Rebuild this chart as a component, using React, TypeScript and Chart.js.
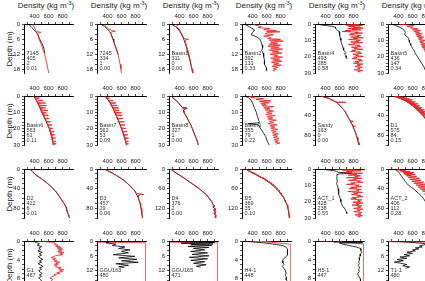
import React, { useEffect, useRef } from "react";
import { Chart, registerables } from "chart.js";
Chart.register(...registerables);

type Pt = [number, number]; // [depth (m), density (kg m-3)]

// ---------- data: [depth, density] ----------
const b7145: Pt[] = [[0,311],[1,350],[2.1,383],[3,415],[3.7,440],[4.7,455],[5.7,469],[7.3,500],[9,526],[10.5,540],[11.7,550]];
const r7145: Pt[] = [[0,369],[1,390],[2,410],[3,430],[3.3,490],[3.5,470],[3.7,440],[5,455],[6,465],[8,495],[10,520],[12,545],[14,562],[16,578],[18,592],[19.5,603]];
const b7245: Pt[] = [[0,300],[1,360],[2,400],[3,430],[4,450],[5,465],[6,480],[7,490],[8,500],[9,515],[10,530],[11,540],[12,550]];
const r7245: Pt[] = [[0,344],[1,380],[2,420],[2.6,470],[2.9,510],[3.1,470],[3.4,440],[4.5,455],[6,475],[8,500],[10,525],[12,550],[14,565],[16,580],[18,592],[19.5,600]];
const bBasin1: Pt[] = [[0,274],[1,340],[2,380],[3,405],[4,425],[5,445],[6,460],[8,485],[10,505],[12,525],[14,545],[16,560],[18,578],[19.5,588]];
const rBasin1: Pt[] = [[0,336],[0.5,370],[1,360],[2,395],[3,415],[4,435],[5,450],[5.8,465],[6.1,530],[6.4,480],[8,495],[10,515],[12,535],[14,550],[16,565],[18,580],[19.5,590]];
const bBasin2: Pt[] = [[0,279],[1,350],[2.4,431],[3.3,400],[4.3,383],[5,450],[6,503],[7,520],[8.3,536],[9.5,545],[10.5,530],[11.5,550],[13,560],[14.8,574],[16,570],[17.4,597],[18.5,600]];
const rBasin2: Pt[] = [[0,410],[0.5,450],[1.0,520],[1.4,480],[1.8,650],[2.2,560],[2.6,740],[2.9,600],[3.1,790],[3.4,620],[3.9,580],[4.3,700],[4.8,560],[5.3,660],[5.8,620],[6.1,800],[6.4,640],[6.8,840],[7.2,660],[7.6,760],[8.0,640],[8.4,800],[8.8,620],[9.2,780],[9.6,660],[10.0,830],[10.4,640],[10.8,780],[11.2,680],[11.6,820],[12.0,650],[12.4,760],[12.8,700],[13.2,830],[13.6,660],[14.0,790],[14.4,690],[14.8,820],[15.2,670],[15.6,780],[16.0,700],[16.4,810],[16.8,680],[17.2,760],[17.6,700],[18.0,740],[18.4,690],[18.8,720]];
const bBasin4: Pt[] = [[0,260],[0.5,330],[1,420],[1.5,500],[2,540],[2.6,544],[3.5,560],[4.6,593],[5.5,600],[7,605],[8.5,610],[10,620],[11.5,625],[13,640],[14.5,650],[16,660],[17.5,690],[18.5,670],[19.5,700],[20.5,695],[21.5,710]];
const rBasin4: Pt[] = [[0,650],[0.3,880],[0.5,760],[0.8,930],[1.1,700],[1.3,820],[1.6,740],[1.9,900],[2.2,800],[2.5,940],[2.8,720],[3.1,850],[3.3,780],[3.6,910],[4.0,680],[4.3,760],[4.6,640],[5.0,870],[5.3,820],[5.6,930],[6.0,760],[6.3,800],[6.6,740],[7.0,905],[7.3,850],[7.6,880],[8.0,760],[8.4,940],[8.8,800],[9.1,860],[9.5,730],[9.9,900],[10.3,840],[10.7,870],[11.0,760],[11.4,930],[11.8,800],[12.2,820],[12.6,730],[13.0,890],[13.4,850],[13.8,910],[14.2,770],[14.6,860],[15.0,810],[15.5,935],[16.0,780],[16.4,830],[16.8,760],[17.2,900],[17.6,860],[18.0,920],[18.5,790],[19.0,870],[19.4,830],[19.8,940],[20.3,800],[20.7,850],[21.2,780],[21.7,910],[22.1,870],[22.6,930],[23.0,820],[23.5,880],[24.0,800],[24.5,935],[25.0,850],[25.5,900],[26.0,820],[26.5,925],[27.0,860],[27.5,890],[28.0,810],[28.5,930],[29.0,860],[29.5,900]];
const bBasin5: Pt[] = [[0,300],[1,360],[2,420],[3,460],[4,480],[5,500],[6,490],[7,495],[8,530],[9,545],[10,550],[11,555],[12,570],[13,575],[14,590],[15,600],[16,620],[17,630],[18,640],[19,655],[20,670],[22,700],[24,730],[26,760],[28,780],[29.5,800]];
const rBasin5: Pt[] = [[0,404],[0.5,500],[1,619],[1.5,520],[2,600],[2.5,571],[3,680],[3.5,600],[4,714],[4.5,620],[5,700],[5.5,640],[6,740],[6.5,650],[7,720],[7.5,660],[8,760],[8.5,680],[9,740],[9.5,690],[10,780],[10.5,700],[11,760],[11.5,710],[12,800],[12.5,720],[13,780],[13.5,730],[14,820],[14.5,740],[15,800],[15.5,760],[16,840],[16.5,770],[17,820],[17.5,780],[18,860],[18.5,790],[19,840],[19.5,800],[20,880],[21,820],[22,880],[23,830],[24,900],[25,850],[26,910],[27,860],[28,920],[29,870],[29.8,900]];
const bBasin6: Pt[] = [[0,383],[1,400],[2,415],[3,430],[5,452],[7,475],[10,503],[12,525],[15,560],[18,590],[20,612],[22,625],[25,645],[28,660],[30,669]];
const rBasin6: Pt[] = [[0,385],[1,405],[1.3,470],[1.6,410],[2.5,425],[2.8,520],[3.1,432],[4,442],[4.3,560],[4.6,450],[5.5,460],[5.8,570],[6.1,468],[7,478],[7.3,560],[7.6,482],[8.5,492],[8.8,590],[9.1,498],[10,505],[10.3,570],[10.6,512],[11.5,520],[11.8,600],[12.1,528],[13.5,545],[13.8,610],[14.1,550],[15.5,565],[15.8,630],[16.1,570],[17.5,585],[17.8,650],[18.1,590],[19.5,605],[19.8,660],[20.1,612],[21.5,620],[21.8,680],[22.1,625],[23.5,635],[23.8,690],[24.1,640],[25.5,648],[25.8,700],[26.1,650],[27.5,657],[27.8,705],[28.1,660],[29,665],[29.3,710],[29.6,668],[30,670]];
const bBasin7: Pt[] = [[0,361],[1,380],[2,400],[3,418],[5,448],[7,472],[10,504],[12,525],[15,555],[18,582],[20,600],[22,615],[25,640],[28,660],[30,671]];
const rBasin7: Pt[] = [[0,362],[1,382],[1.3,430],[1.6,390],[2.5,412],[2.8,480],[3.1,420],[4,433],[4.3,520],[4.6,440],[5.5,455],[5.8,540],[6.1,460],[7,472],[7.3,560],[7.6,478],[8.5,490],[8.8,570],[9.1,495],[10,504],[10.3,600],[10.6,510],[11.5,518],[11.8,610],[12.1,525],[13.5,540],[13.8,620],[14.1,545],[15.5,558],[15.8,640],[16.1,562],[17.5,575],[17.8,650],[18.1,580],[19.5,598],[19.8,660],[20.1,600],[21.5,612],[21.8,680],[22.1,615],[23.5,630],[23.8,690],[24.1,632],[25.5,642],[25.8,700],[26.1,645],[27.5,655],[27.8,700],[28.1,658],[29,665],[29.3,700],[29.6,668],[30,671]];
const bBasin8: Pt[] = [[0,274],[1,300],[2,330],[3,360],[4,380],[5,400],[6,420],[7,440],[7.6,510],[8.2,470],[9,455],[10,464],[12,490],[14,515],[16,540],[18,565],[20,583],[22,600],[24,620],[26,640],[28,655],[30,669]];
const rBasin8: Pt[] = [[0,280],[1,305],[2,335],[3,362],[4,383],[5,402],[6,422],[7,440],[7.3,500],[7.6,448],[9,458],[10,466],[12,492],[14,517],[16,542],[18,566],[20,584],[22,602],[24,622],[26,641],[28,656],[30,670]];
const bBasin9: Pt[] = [[0,288],[1,340],[2.5,380],[5,407],[7.5,430],[10,455],[12.5,470],[15,490],[16.3,500],[17.0,336],[17.6,480],[20.3,521],[22.5,555],[25,590],[27.5,610],[30,638]];
const rBasin9: Pt[] = [[0,336],[0.6,420],[1.0,380],[1.6,560],[2.2,450],[3.0,661],[3.5,500],[4.2,640],[4.8,520],[5.5,600],[6.0,540],[6.5,700],[7.2,560],[7.8,650],[8.5,580],[9.2,700],[9.9,600],[10.6,680],[11.3,590],[12.0,720],[12.7,610],[13.4,690],[14.1,620],[14.8,740],[15.5,640],[16.2,700],[16.9,620],[17.6,750],[18.3,650],[19.0,720],[19.7,660],[20.4,760],[21.1,670],[21.8,740],[22.5,680],[23.2,770],[23.9,690],[24.6,760],[25.3,700],[26.0,780],[26.7,710],[27.4,770],[28.1,720],[28.8,790],[29.5,730]];
const bSandy: Pt[] = [[0,330],[3,400],[5,450],[8,490],[10,520],[13,555],[15,570],[20,610],[25,640],[30,670],[35,690],[40,710],[45,730],[50,750],[55,768],[60,785],[65,800],[70,815],[75,828],[80,840],[85,850],[90,860],[95,868],[100,875]];
const rSandy: Pt[] = [[0,332],[3,402],[5,452],[8,492],[10,522],[12,545],[12.8,690],[13.5,560],[15,572],[20,612],[25,642],[30,672],[35,692],[40,712],[45,732],[50,752],[52,800],[53,756],[58,780],[60,787],[62,830],[63,792],[70,817],[75,830],[80,842],[85,852],[90,862],[95,870],[100,877]];
const bD1: Pt[] = [[0,330],[5,420],[10,500],[15,555],[20,600],[25,640],[30,680],[35,715],[40,750],[50,800],[60,830],[70,860],[80,880],[90,895],[100,910]];
const rD1: Pt[] = [[0,335],[1,400],[1.5,340],[2.5,480],[3,380],[4,520],[5,430],[6,560],[7,460],[8,600],[9,490],[10,580],[11,510],[12,640],[13,530],[14,620],[15,560],[16,680],[17,575],[18,650],[19,590],[20,700],[21,610],[22,690],[23,625],[24,740],[25,640],[26,720],[27,660],[28,770],[29,670],[30,750],[31,690],[32,790],[33,700],[34,770],[35,720],[36,820],[37,730],[38,800],[39,745],[40,840],[42,770],[44,860],[46,790],[48,870],[50,805],[53,880],[56,820],[59,900],[62,840],[65,910],[70,865],[75,920],[80,885],[85,930],[90,900],[95,935],[100,915]];
const bD2: Pt[] = [[0,330],[5,370],[11,407],[20,500],[27,565],[34,621],[45,700],[58,764],[70,820],[78,850],[90,875],[100,900]];
const rD2: Pt[] = [[0,332],[5,372],[11,410],[20,502],[27,567],[34,623],[45,702],[58,766],[70,822],[78,852],[85,860],[86,880],[87,862],[90,877],[93,885],[95,900],[97,890],[100,902]];
const bD3: Pt[] = [[0,350],[5,420],[11,500],[20,600],[27,665],[34,719],[45,790],[58,837],[70,865],[85,885],[100,900]];
const rD3: Pt[] = [[0,352],[3,400],[5,425],[8,470],[11,503],[15,550],[20,603],[25,650],[30,690],[34,722],[38,750],[42,775],[45,793],[50,815],[51,880],[52,915],[53,840],[58,840],[65,855],[70,868],[75,875],[80,880],[82,900],[83,882],[90,890],[100,902]];
const bD4: Pt[] = [[0,270],[8,320],[16,380],[30,480],[45,580],[60,680],[80,789],[100,860],[105,870],[110,880],[113,905],[116,875],[120,895],[123,915],[126,885],[130,905],[133,920],[136,890],[140,910],[143,925],[146,905],[150,915]];
const rD4: Pt[] = [[0,275],[8,325],[16,385],[30,485],[45,585],[60,685],[80,792],[100,862],[110,882],[120,897],[130,907],[140,912],[150,918]];
const bD5: Pt[] = [[0,300],[10,380],[16,440],[30,560],[45,660],[56,720],[70,780],[90,850],[110,895],[130,915],[150,925]];
const rD5: Pt[] = [[0,305],[3,330],[5,360],[6,340],[8,380],[10,390],[12,420],[13,400],[15,450],[17,440],[19,490],[21,470],[23,520],[25,510],[27,560],[29,545],[31,590],[33,580],[35,620],[37,605],[39,650],[41,640],[43,680],[45,665],[47,700],[50,695],[53,730],[56,725],[59,760],[62,755],[66,790],[70,785],[75,820],[80,815],[85,850],[90,845],[95,870],[100,868],[110,895],[120,905],[130,920],[140,925],[150,930]];
const bACT1: Pt[] = [[0,320],[0.5,420],[1,520],[1.5,560],[2,580],[2.5,770],[3,600],[3.5,560],[4.5,565],[6,560],[7.5,570],[9,557],[10.5,575],[12,580],[13.5,585],[15.3,590],[17,600],[18.5,615],[20,620],[21.4,629],[23,650],[24.5,680],[26.4,700],[27.2,705]];
const rACT1: Pt[] = [[0,500],[0.4,820],[0.7,640],[1.1,910],[1.5,700],[1.8,780],[2.2,690],[2.6,930],[3.0,760],[3.3,850],[3.7,720],[4.1,900],[4.5,820],[4.9,870],[5.3,700],[5.7,920],[6.1,800],[6.5,840],[6.9,730],[7.3,900],[7.8,860],[8.2,935],[8.6,760],[9.0,820],[9.4,700],[9.9,880],[10.3,830],[10.8,920],[11.2,760],[11.6,850],[12.0,740],[12.5,910],[13.0,840],[13.4,880],[13.8,720],[14.3,930],[14.7,800],[15.2,860],[15.6,770],[16.1,905],[16.6,850],[17.0,935],[17.5,780],[17.9,840],[18.4,760],[18.9,920],[19.3,860],[19.8,900],[20.3,790],[20.8,935],[21.2,840],[21.7,880],[22.1,780],[22.6,920],[23.1,860],[23.6,900],[24.1,800],[24.6,935],[25.1,850],[25.6,890],[26.1,800],[26.6,920],[27.1,870],[27.6,910],[28.1,820],[28.6,930],[29.1,860],[29.6,900]];
const bACT2: Pt[] = [[0,330],[3,380],[6,400],[10,420],[15,445],[20,470],[25,495],[30,520],[35,560],[40,610],[45,650],[50,690],[55,725],[60,755],[70,800],[80,840],[90,870],[100,890]];
const rACT2: Pt[] = [[0,340],[1,420],[2,380],[3,500],[4,420],[5,560],[6,450],[7,620],[8,470],[9,600],[10,480],[11,640],[12,500],[13,580],[14,520],[15,660],[17,540],[19,700],[21,560],[23,720],[25,590],[27,760],[29,620],[31,780],[33,650],[35,800],[37,680],[39,830],[41,710],[43,850],[45,740],[48,870],[51,770],[54,890],[57,800],[60,900],[64,830],[68,910],[72,850],[76,920],[80,870],[85,930],[90,890],[95,935],[100,910]];
const bG1: Pt[] = [[0,369],[0.3,430],[0.6,470],[0.9,440],[1.2,500],[1.5,460],[1.8,490],[2.1,450],[2.4,510],[2.7,470],[3.0,500],[3.3,455],[3.6,480],[3.9,520],[4.2,470],[4.5,500],[4.8,450],[5.1,490],[5.4,520],[5.7,470],[6.0,500],[6.3,460],[6.6,480],[6.9,510],[7.2,470],[7.5,500],[7.8,460],[8.1,480],[8.4,500],[8.7,470],[9.0,490],[9.5,470],[10,480]];
const rG1: Pt[] = [[0,420],[0.15,560],[0.3,650],[0.5,700],[0.7,680],[0.9,740],[1.1,700],[1.3,780],[1.5,720],[1.7,800],[1.9,740],[2.1,790],[2.3,730],[2.5,820],[2.7,760],[2.9,800],[3.1,700],[3.3,680],[3.5,640],[3.7,700],[3.9,660],[4.1,720],[4.3,680],[4.5,760],[4.7,700],[4.9,740],[5.1,680],[5.3,720],[5.5,700],[5.7,780],[5.9,740],[6.1,820],[6.3,760],[6.5,800],[6.7,720],[6.9,760],[7.1,680],[7.3,700],[7.5,660],[7.7,640],[7.9,620],[8.1,660],[8.5,640],[9,680],[9.5,660],[10,700]];
const bGGU163: Pt[] = [[0,300],[0.4,420],[0.8,380],[1.2,520],[1.8,470],[2.4,650],[3.0,560],[3.6,720],[4.2,600],[4.8,700],[5.5,480],[6.2,790],[6.8,560],[7.4,820],[8.0,600],[8.6,840],[9.2,520],[9.8,700],[10.4,560],[10.8,640]];
const rGGU163: Pt[] = [[0.5,260],[0.7,945],[19.8,945]];
const bGGU165: Pt[] = [[0,260],[0.3,500],[0.6,900],[0.9,420],[1.2,880],[1.5,560],[1.8,860],[2.2,520],[2.6,820],[3.0,600],[3.6,760],[4.2,560],[4.8,800],[5.4,580],[6.0,820],[6.6,540],[7.2,800],[7.8,560],[8.4,760],[9.0,600],[9.6,780],[10.2,640],[10.5,700]];
const rGGU165: Pt[] = [[0.5,260],[0.7,945],[19.8,945]];
const bH41: Pt[] = [[0,267],[0.2,400],[0.4,560],[0.7,720],[1.0,840],[1.4,887],[1.8,901],[2.2,905],[2.6,900],[3.0,895],[3.4,870],[3.8,845],[4.2,825],[4.6,835],[5.0,850],[5.4,825],[5.8,848],[6.3,870],[6.8,880],[7.3,870],[7.8,890],[8.2,880],[8.6,900]];
const rH41: Pt[] = [[0,310],[0.1,450],[0.18,600],[0.4,760],[0.6,887],[0.74,945],[10.4,945]];
const bH51: Pt[] = [[0,270],[0.1,560],[0.2,520],[0.35,930],[0.45,600],[0.7,660],[1.0,750],[1.3,850],[1.6,900],[2.0,905],[2.4,915],[2.8,900],[3.2,895],[3.6,880],[4.0,885],[4.4,875],[4.8,880],[5.2,870],[5.6,885],[6.0,875],[6.5,880],[7.0,860],[7.5,875],[8.0,895],[8.5,900]];
const rH51: Pt[] = [[0,330],[0.1,500],[0.25,650],[0.4,780],[0.55,880],[0.65,945],[10.4,945]];
const bT11: Pt[] = [[0,300],[0.3,450],[0.6,600],[0.9,720],[1.2,800],[1.6,760],[2.0,700],[2.4,740],[2.8,640],[3.2,690],[3.6,600],[4.0,640],[4.5,520],[5.0,600],[5.5,480],[6.0,560],[6.5,420],[7.0,520],[7.5,380],[8.0,470],[8.5,340],[9.0,430],[9.5,520],[10.0,460],[10.5,560],[11,500]];
const rT11: Pt[] = [[0.3,260],[0.5,945],[19.8,945]];

const xTickValues = [300, 400, 500, 600, 700, 800, 900];
const xTickLabels = [400, 600, 800];

// ---------- panel table ----------
interface PanelDef {
  name: string; stats: string[]; col: number; row: number;
  yMax: number; major: number; minor: number;
  black: Pt[]; red: Pt[]; bound?: boolean;
}
const panels: PanelDef[] = [
  { name: "7145", stats: ["405", "2", "0.01"], col: 0, row: 0, yMax: 19.5, major: 6, minor: 2, black: b7145, red: r7145 },
  { name: "7245", stats: ["334", "1", "0.00"], col: 1, row: 0, yMax: 19.5, major: 6, minor: 2, black: b7245, red: r7245 },
  { name: "Basin1", stats: ["311", "0", "0.00"], col: 2, row: 0, yMax: 19.5, major: 6, minor: 2, black: bBasin1, red: rBasin1 },
  { name: "Basin2", stats: ["392", "131", "0.33"], col: 3, row: 0, yMax: 19.5, major: 6, minor: 2, black: bBasin2, red: rBasin2 },
  { name: "Basin4", stats: ["493", "285", "0.58"], col: 4, row: 0, yMax: 30, major: 10, minor: 2, black: bBasin4, red: rBasin4 },
  { name: "Basin5", stats: ["436", "147", "0.34"], col: 5, row: 0, yMax: 30, major: 10, minor: 2, black: bBasin5, red: rBasin5 },
  { name: "Basin6", stats: ["563", "61", "0.11"], col: 0, row: 1, yMax: 30, major: 10, minor: 2, black: bBasin6, red: rBasin6 },
  { name: "Basin7", stats: ["562", "53", "0.09"], col: 1, row: 1, yMax: 30, major: 10, minor: 2, black: bBasin7, red: rBasin7 },
  { name: "Basin8", stats: ["327", "1", "0.00"], col: 2, row: 1, yMax: 30, major: 10, minor: 2, black: bBasin8, red: rBasin8 },
  { name: "Basin9", stats: ["355", "79", "0.22"], col: 3, row: 1, yMax: 30, major: 10, minor: 2, black: bBasin9, red: rBasin9 },
  { name: "Sandy", stats: ["163", "0", "0.00"], col: 4, row: 1, yMax: 100, major: 40, minor: 10, black: bSandy, red: rSandy },
  { name: "D1", stats: ["575", "84", "0.15"], col: 5, row: 1, yMax: 100, major: 40, minor: 10, black: bD1, red: rD1 },
  { name: "D2", stats: ["422", "6", "0.01"], col: 0, row: 2, yMax: 100, major: 40, minor: 10, black: bD2, red: rD2 },
  { name: "D3", stats: ["457", "29", "0.06"], col: 1, row: 2, yMax: 100, major: 40, minor: 10, black: bD3, red: rD3 },
  { name: "D4", stats: ["376", "2", "0.00"], col: 2, row: 2, yMax: 150, major: 60, minor: 15, black: bD4, red: rD4 },
  { name: "D5", stats: ["369", "35", "0.10"], col: 3, row: 2, yMax: 150, major: 60, minor: 15, black: bD5, red: rD5 },
  { name: "ACT_1", stats: ["428", "238", "0.55"], col: 4, row: 2, yMax: 30, major: 10, minor: 2, black: bACT1, red: rACT1 },
  { name: "ACT_2", stats: ["406", "112", "0.28"], col: 5, row: 2, yMax: 100, major: 40, minor: 10, black: bACT2, red: rACT2 },
  { name: "G1", stats: ["467"], col: 0, row: 3, yMax: 10.4, major: 4, minor: 1, black: bG1, red: rG1 },
  { name: "GGU163", stats: ["480"], col: 1, row: 3, yMax: 19.8, major: 6, minor: 2, black: bGGU163, red: rGGU163, bound: true },
  { name: "GGU165", stats: ["471"], col: 2, row: 3, yMax: 19.8, major: 6, minor: 2, black: bGGU165, red: rGGU165, bound: true },
  { name: "H4-1", stats: ["448"], col: 3, row: 3, yMax: 10.4, major: 4, minor: 1, black: bH41, red: rH41, bound: true },
  { name: "H5-1", stats: ["447"], col: 4, row: 3, yMax: 10.4, major: 4, minor: 1, black: bH51, red: rH51, bound: true },
  { name: "T1-1", stats: ["480"], col: 5, row: 3, yMax: 19.8, major: 6, minor: 2, black: bT11, red: rT11, bound: true },
];

// ---------- layout ----------
const COL0 = 24;
const COL_STEP = 72.7;
const ROW_TOPS = [24, 96, 169, 241];
const PLOT_W = 49;
const PLOT_H = 49;
const YAX_W = 18;
const XAX_H = 14;
const PAD_R = 6;
const PAD_B = 6;
const FONT = "'Liberation Sans', Arial, Helvetica, sans-serif";
const RED = "rgb(232,22,22)";
const BOUND_RED = "rgb(238,95,95)";
const INK = "#1a1a1a";

function plotLeft(col: number) { return Math.round(COL0 + COL_STEP * col); }

const annotPlugin = {
  id: "annot",
  afterDraw(chart: any) {
    const p: PanelDef = chart.options.plugins.annot.panel;
    const { ctx, chartArea } = chart;
    const lines = [p.name, ...p.stats];
    ctx.save();
    ctx.font = `5.5px ${FONT}`;
    ctx.fillStyle = "#333";
    ctx.textBaseline = "middle";
    const step = 5;
    const y0 = chartArea.bottom - 4.5 - 3 * step;
    lines.forEach((t, i) => ctx.fillText(t, chartArea.left + 2.5, y0 + i * step));
    ctx.restore();
  },
};

function Panel({ p }: { p: PanelDef }) {
  const ref = useRef<HTMLCanvasElement>(null);
  const w = YAX_W + PLOT_W + PAD_R;
  const h = XAX_H + PLOT_H + PAD_B;
  useEffect(() => {
    if (!ref.current) return;
    const yTicks: number[] = [];
    for (let v = 0; v <= p.yMax + 1e-9; v += p.minor) yTicks.push(Math.round(v * 1000) / 1000);
    const chart = new Chart(ref.current, {
      type: "scatter",
      data: {
        datasets: [
          {
            data: p.black.map(([d, v]) => ({ x: v, y: d })),
            showLine: true, borderColor: "#000", borderWidth: 0.8,
            pointRadius: 0, tension: 0, order: p.bound ? 1 : 2,
          },
          {
            data: p.red.map(([d, v]) => ({ x: v, y: d })),
            showLine: true, borderColor: p.bound ? BOUND_RED : RED,
            borderWidth: p.bound ? 1.1 : 0.8,
            pointRadius: 0, tension: 0, order: p.bound ? 2 : 1,
          },
        ],
      },
      options: {
        animation: false,
        responsive: false,
        maintainAspectRatio: false,
        devicePixelRatio: 1,
        layout: { padding: { top: 0, left: 0, right: PAD_R, bottom: PAD_B } },
        plugins: {
          legend: { display: false },
          tooltip: { enabled: false },
          annot: { panel: p },
        } as any,
        scales: {
          x: {
            type: "linear", position: "top", min: 250, max: 950,
            afterBuildTicks: (s: any) => { s.ticks = xTickValues.map((v) => ({ value: v })); },
            afterFit: (s: any) => { s.height = XAX_H; },
            ticks: {
              autoSkip: false, maxRotation: 0, minRotation: 0, padding: 2,
              color: INK, font: { size: 6, family: FONT },
              callback: (v: any) => (xTickLabels.includes(Number(v)) ? String(v) : ""),
            },
            grid: { drawOnChartArea: false, drawTicks: true, tickLength: 2, color: "#000", lineWidth: 0.7 },
            border: { display: true, color: "#000", width: 1 },
          },
          y: {
            type: "linear", reverse: true, min: 0, max: p.yMax,
            afterBuildTicks: (s: any) => { s.ticks = yTicks.map((v) => ({ value: v })); },
            afterFit: (s: any) => { s.width = YAX_W; },
            ticks: {
              autoSkip: false, padding: 2,
              color: INK, font: { size: 6, family: FONT },
              callback: (v: any) => {
                const n = Number(v);
                return Math.abs(n / p.major - Math.round(n / p.major)) < 1e-6 ? String(Math.round(n)) : "";
              },
            },
            grid: { drawOnChartArea: false, drawTicks: true, tickLength: 2, color: "#000", lineWidth: 0.7 },
            border: { display: true, color: "#000", width: 1 },
          },
        },
      },
      plugins: [annotPlugin],
    } as any);
    return () => chart.destroy();
  }, [p]);
  const left = plotLeft(p.col) - YAX_W;
  const top = ROW_TOPS[p.row] - XAX_H;
  return (
    <canvas
      ref={ref}
      width={w}
      height={h}
      style={{ position: "absolute", left, top, width: w, height: h }}
    />
  );
}

export default function App() {
  const textStyle: React.CSSProperties = {
    position: "absolute", fontFamily: FONT, fontSize: 8, color: INK,
    whiteSpace: "nowrap", lineHeight: "10px",
  };
  return (
    <div style={{ position: "fixed", left: 0, top: 0, width: 425, height: 281, overflow: "hidden", background: "#fff" }}>
      {[0, 1, 2, 3, 4, 5].map((c) => (
        <div key={"t" + c} style={{ ...textStyle, left: plotLeft(c) + 22 - 40, top: 1, width: 80, textAlign: "center" }}>
          Density (kg m<sup style={{ fontSize: 5.5, lineHeight: 0, verticalAlign: "3px" }}>-3</sup>)
        </div>
      ))}
      {ROW_TOPS.map((t, r) => (
        <div key={"d" + r} style={{ ...textStyle, left: 10 - 30, top: t + PLOT_H / 2 - 5, width: 60, textAlign: "center", transform: "rotate(-90deg)" }}>
          Depth (m)
        </div>
      ))}
      {panels.map((p) => (
        <Panel key={p.name} p={p} />
      ))}
    </div>
  );
}
